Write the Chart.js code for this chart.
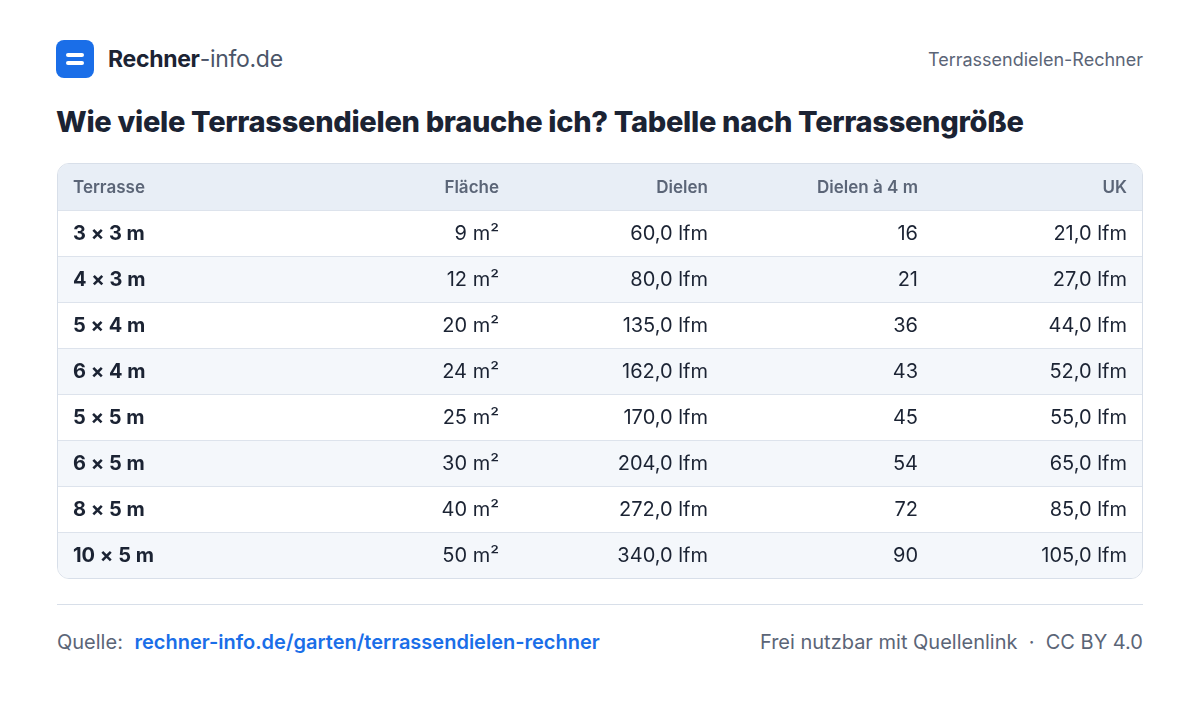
<!DOCTYPE html>
<html>
<head>
<meta charset="utf-8">
<script src="https://cdn.jsdelivr.net/npm/chart.js@4/dist/chart.umd.min.js"></script>
<style>
  body { margin: 0; width: 1200px; height: 724px; background: #fff; font-family: Inter, "Noto Sans", sans-serif; color: #1b2333; position: relative; }
  .logo { position: absolute; left: 56px; top: 40px; width: 38px; height: 38px; border-radius: 8px; background: #1a6ee8; }
  .logo i { position: absolute; left: 10px; width: 18px; height: 4px; border-radius: 2px; background: #fff; }
  .brand { position: absolute; left: 108px; top: 45px; font-size: 23px; font-weight: 700; letter-spacing: -0.3px; }
  .brand span { font-weight: 400; color: #4b5568; }
  .tag { position: absolute; right: 57px; top: 49px; font-size: 18px; color: #5b6577; }
  h1 { position: absolute; left: 56px; top: 104px; margin: 0; font-size: 29px; font-weight: 800; letter-spacing: -0.3px; }
  .box { position: absolute; left: 57px; top: 163px; width: 1084px; height: 414px; border: 1px solid #d8dfe9; border-radius: 12px; overflow: hidden; }
  .rule { position: absolute; left: 57px; top: 604px; width: 1086px; height: 1px; background: #d8dfe9; }
  .src { position: absolute; left: 57px; top: 630px; font-size: 20px; color: #5b6577; }
  .src b { color: #1a6ee8; font-weight: 600; margin-left: 6px; }
  .lic { position: absolute; right: 57px; top: 630px; font-size: 20px; color: #5b6577; }
</style>
</head>
<body>
<div class="logo"><i style="top:13px"></i><i style="top:21px"></i></div>
<div class="brand">Rechner<span>-info.de</span></div>
<div class="tag">Terrassendielen-Rechner</div>
<h1>Wie viele Terrassendielen brauche ich? Tabelle nach Terrassengröße</h1>
<div class="box"><canvas id="tabelle" width="1084" height="414"></canvas></div>
<div class="rule"></div>
<div class="src">Quelle: <b>rechner-info.de/garten/terrassendielen-rechner</b></div>
<div class="lic">Frei nutzbar mit Quellenlink &nbsp;·&nbsp; CC BY 4.0</div>
<script>
const spalten = ["Terrasse", "Fläche", "Dielen", "Dielen à 4 m", "UK"];
const terrasse = ["3 × 3 m", "4 × 3 m", "5 × 4 m", "6 × 4 m", "5 × 5 m", "6 × 5 m", "8 × 5 m", "10 × 5 m"];
const flaeche = [9, 12, 20, 24, 25, 30, 40, 50];
const dielen = [60, 80, 135, 162, 170, 204, 272, 340];
const dielen4m = [16, 21, 36, 43, 45, 54, 72, 90];
const uk = [21, 27, 44, 52, 55, 65, 85, 105];

const fmt = v => v.toFixed(1).replace(".", ",") + " lfm";
// Spaltenkanten (x im Canvas), Terrasse links, Rest rechtsbündig
const spaltenX = [15, 441, 650, 860, 1069];

const tabellePlugin = {
    id: "tabelle",
    afterDraw(chart) {
        const ctx = chart.ctx;
        const y = chart.scales.y;
        const w = chart.width;
        const h = (y.bottom - y.top) / y.ticks.length;
        ctx.save();
        y.ticks.forEach((t, i) => {
            const cy = y.getPixelForValue(i);
            ctx.fillStyle = i === 0 ? "#e8eef6" : (i % 2 === 0 ? "#f4f7fb" : "#ffffff");
            ctx.fillRect(0, cy - h / 2, w, h);
            if (i > 0) {
                ctx.fillStyle = "#dde3ec";
                ctx.fillRect(0, cy - h / 2, w, 1);
            }
            let zellen;
            if (i === 0) {
                zellen = spalten;
                ctx.font = "600 17px Inter, sans-serif";
                ctx.fillStyle = "#5b6577";
            } else {
                const r = i - 1;
                zellen = [terrasse[r], flaeche[r] + " m²", fmt(dielen[r]), String(dielen4m[r]), fmt(uk[r])];
            }
            ctx.textBaseline = "middle";
            zellen.forEach((z, c) => {
                if (i > 0) {
                    ctx.font = c === 0 ? "700 20px Inter, sans-serif" : "400 20px Inter, sans-serif";
                    ctx.fillStyle = "#1b2333";
                }
                ctx.textAlign = c === 0 ? "left" : "right";
                ctx.fillText(z, spaltenX[c], cy + 1);
            });
        });
        ctx.restore();
    }
};

document.addEventListener("DOMContentLoaded", function () {
    const ctx = document.getElementById("tabelle").getContext("2d");
    new Chart(ctx, {
        type: "bar",
        data: { labels: ["kopf"].concat(terrasse), datasets: [] },
        options: {
            responsive: false,
            animation: false,
            layout: { padding: 0 },
            scales: {
                y: { type: "category", offset: true, display: false },
                x: { display: false }
            },
            plugins: { legend: { display: false }, tooltip: { enabled: false } }
        },
        plugins: [tabellePlugin]
    });
});
</script>
</body>
</html>
